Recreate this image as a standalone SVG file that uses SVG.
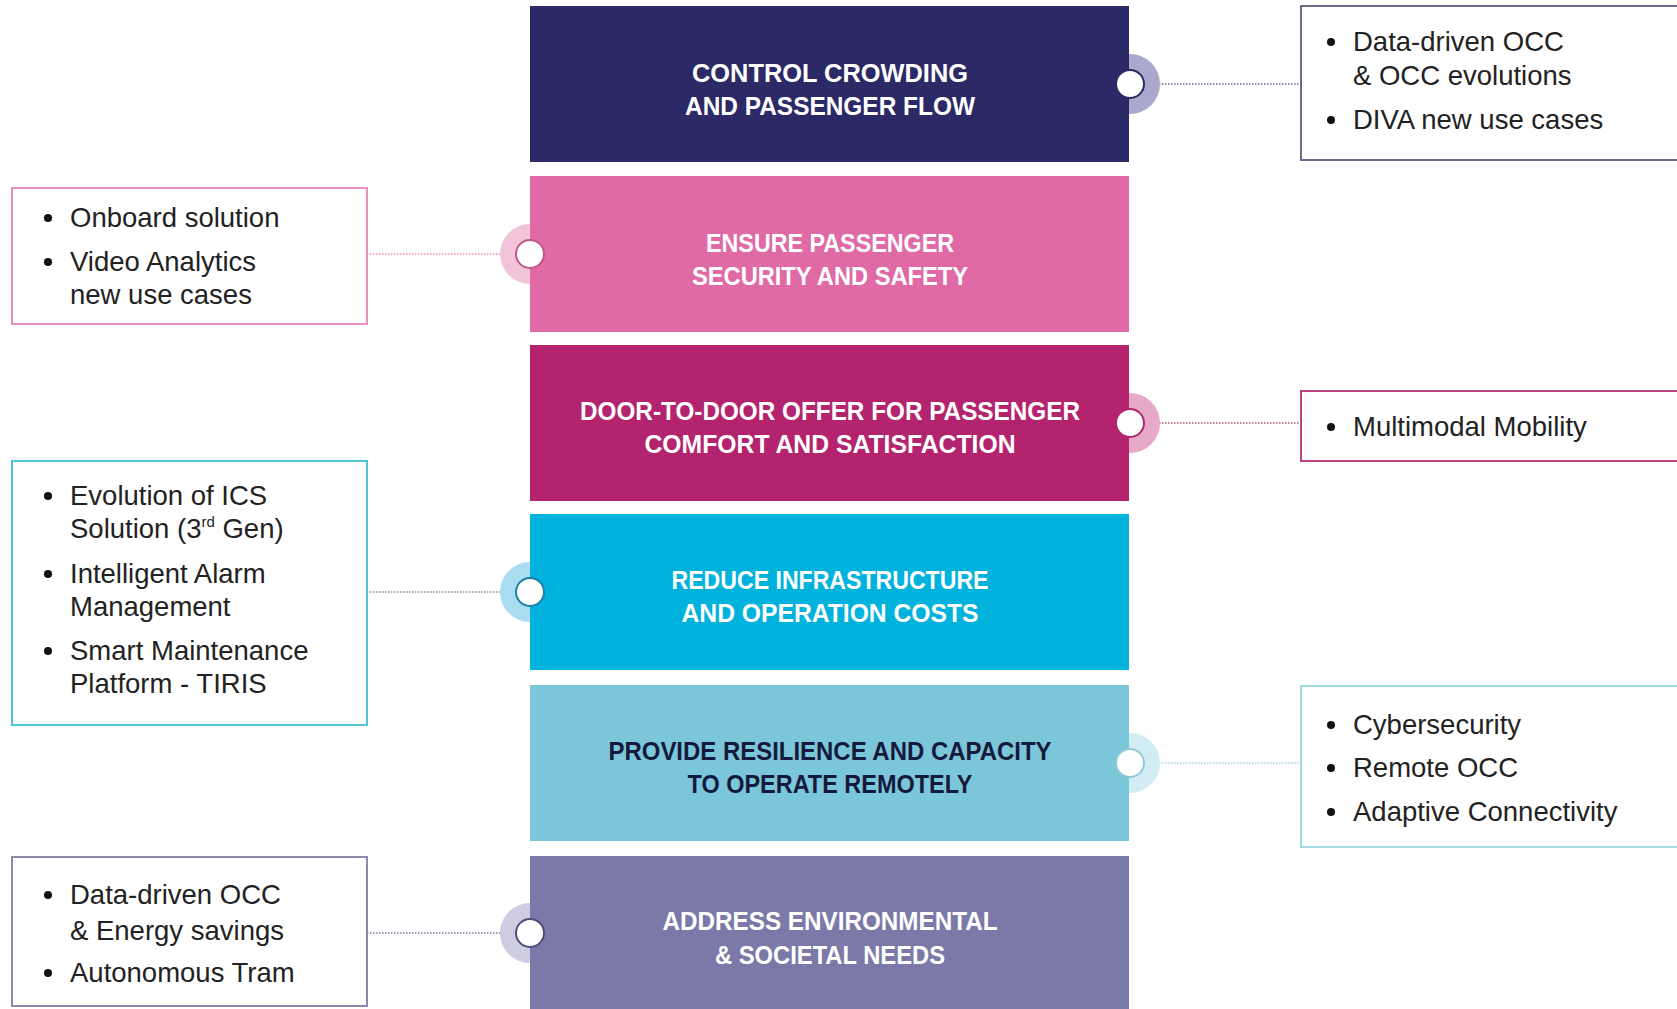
<svg xmlns="http://www.w3.org/2000/svg" width="1677" height="1009" viewBox="0 0 1677 1009">
<style>
.ct{font-family:"Liberation Sans",Arial,sans-serif;font-weight:bold;font-size:26px;fill:#ffffff;text-anchor:middle}
.st{font-family:"Liberation Sans",Arial,sans-serif;font-size:27.5px;fill:#222222}
.bul{fill:#111111}
.side{fill:#ffffff;stroke-width:2}
.dot{stroke-width:1.6;stroke-dasharray:1.5 1.5;fill:none}
.pin{fill:#ffffff;stroke-width:2}
</style>
<rect width="1677" height="1009" fill="#ffffff"/>

<g id="connectors">
<line class="dot" x1="1144" y1="84" x2="1300" y2="84" stroke="#6e6c8a"/>
<line class="dot" x1="367" y1="254" x2="516" y2="254" stroke="#e68cb8"/>
<line class="dot" x1="1144" y1="423" x2="1300" y2="423" stroke="#b8527f"/>
<line class="dot" x1="367" y1="592" x2="516" y2="592" stroke="#7f8a96"/>
<line class="dot" x1="1144" y1="763" x2="1300" y2="763" stroke="#9fd3df"/>
<line class="dot" x1="367" y1="933" x2="516" y2="933" stroke="#7a7896"/>
</g>

<g id="node-control">
<circle cx="1130" cy="84" r="30" fill="#aaa8cc"/>
<rect x="530" y="6" width="599" height="156" fill="#2b2966"/>
<circle class="pin" cx="1130" cy="84" r="14" stroke="#2b2966"/>
<text class="ct" x="830" y="82" textLength="276" lengthAdjust="spacingAndGlyphs">CONTROL CROWDING</text>
<text class="ct" x="830" y="115" textLength="290" lengthAdjust="spacingAndGlyphs">AND PASSENGER FLOW</text>
</g>

<g id="node-security">
<circle cx="530" cy="254" r="30" fill="#f2c4da"/>
<rect x="530" y="176" width="599" height="156" fill="#e06aa6"/>
<circle class="pin" cx="530" cy="254" r="14" stroke="#c0588a"/>
<text class="ct" x="830" y="252" textLength="248" lengthAdjust="spacingAndGlyphs">ENSURE PASSENGER</text>
<text class="ct" x="830" y="285" textLength="276" lengthAdjust="spacingAndGlyphs">SECURITY AND SAFETY</text>
</g>

<g id="node-door">
<circle cx="1130" cy="423" r="30" fill="#e6a9c8"/>
<rect x="530" y="345" width="599" height="156" fill="#b3236e"/>
<circle class="pin" cx="1130" cy="423" r="14" stroke="#b3236e"/>
<text class="ct" x="830" y="420" textLength="500" lengthAdjust="spacingAndGlyphs">DOOR-TO-DOOR OFFER FOR PASSENGER</text>
<text class="ct" x="830" y="453" textLength="371" lengthAdjust="spacingAndGlyphs">COMFORT AND SATISFACTION</text>
</g>

<g id="node-costs">
<circle cx="530" cy="592" r="30" fill="#a9def0"/>
<rect x="530" y="514" width="599" height="156" fill="#00b2dc"/>
<circle class="pin" cx="530" cy="592" r="14" stroke="#1a7fa0"/>
<text class="ct" x="830" y="589" textLength="317" lengthAdjust="spacingAndGlyphs">REDUCE INFRASTRUCTURE</text>
<text class="ct" x="830" y="622" textLength="297" lengthAdjust="spacingAndGlyphs">AND OPERATION COSTS</text>
</g>

<g id="node-resilience">
<circle cx="1130" cy="763" r="30" fill="#d2ecf3"/>
<rect x="530" y="685" width="599" height="156" fill="#7cc6da"/>
<circle class="pin" cx="1130" cy="763" r="14" stroke="#8fc9d8"/>
<text class="ct" x="830" y="760" textLength="443" lengthAdjust="spacingAndGlyphs" style="fill:#141a3c">PROVIDE RESILIENCE AND CAPACITY</text>
<text class="ct" x="830" y="793" textLength="285" lengthAdjust="spacingAndGlyphs" style="fill:#141a3c">TO OPERATE REMOTELY</text>
</g>

<g id="node-environment">
<circle cx="530" cy="933" r="30" fill="#cdcce0"/>
<rect x="530" y="856" width="599" height="160" fill="#7b79a8"/>
<circle class="pin" cx="530" cy="933" r="14" stroke="#4e4c78"/>
<text class="ct" x="830" y="930" textLength="335" lengthAdjust="spacingAndGlyphs">ADDRESS ENVIRONMENTAL</text>
<text class="ct" x="830" y="964" textLength="230" lengthAdjust="spacingAndGlyphs">&amp; SOCIETAL NEEDS</text>
</g>

<g id="box-occ">
<rect class="side" x="1301" y="6" width="390" height="154" stroke="#6e6a8e"/>
<circle class="bul" cx="1331" cy="42" r="4"/>
<text class="st" x="1353" y="51">Data-driven OCC</text>
<text class="st" x="1353" y="85">&amp; OCC evolutions</text>
<circle class="bul" cx="1331" cy="120" r="4"/>
<text class="st" x="1353" y="129">DIVA new use cases</text>
</g>

<g id="box-onboard">
<rect class="side" x="12" y="188" width="355" height="136" stroke="#e890bb"/>
<circle class="bul" cx="48" cy="218" r="4"/>
<text class="st" x="70" y="227">Onboard solution</text>
<circle class="bul" cx="48" cy="262" r="4"/>
<text class="st" x="70" y="271">Video Analytics</text>
<text class="st" x="70" y="304">new use cases</text>
</g>

<g id="box-multimodal">
<rect class="side" x="1301" y="391" width="390" height="70" stroke="#b8437f"/>
<circle class="bul" cx="1331" cy="427" r="4"/>
<text class="st" x="1353" y="436">Multimodal Mobility</text>
</g>

<g id="box-ics">
<rect class="side" x="12" y="461" width="355" height="264" stroke="#4ec3dc"/>
<circle class="bul" cx="48" cy="496" r="4"/>
<text class="st" x="70" y="505">Evolution of ICS</text>
<text class="st" x="70" y="538">Solution (3<tspan font-size="15" dy="-11">rd</tspan><tspan dy="11"> Gen)</tspan></text>
<circle class="bul" cx="48" cy="574" r="4"/>
<text class="st" x="70" y="583">Intelligent Alarm</text>
<text class="st" x="70" y="616">Management</text>
<circle class="bul" cx="48" cy="651" r="4"/>
<text class="st" x="70" y="660">Smart Maintenance</text>
<text class="st" x="70" y="693">Platform - TIRIS</text>
</g>

<g id="box-cyber">
<rect class="side" x="1301" y="686" width="390" height="161" stroke="#a2d9e5"/>
<circle class="bul" cx="1331" cy="725" r="4"/>
<text class="st" x="1353" y="734">Cybersecurity</text>
<circle class="bul" cx="1331" cy="768" r="4"/>
<text class="st" x="1353" y="777">Remote OCC</text>
<circle class="bul" cx="1331" cy="812" r="4"/>
<text class="st" x="1353" y="821">Adaptive Connectivity</text>
</g>

<g id="box-energy">
<rect class="side" x="12" y="857" width="355" height="149" stroke="#8b89ad"/>
<circle class="bul" cx="48" cy="895" r="4"/>
<text class="st" x="70" y="904">Data-driven OCC</text>
<text class="st" x="70" y="940">&amp; Energy savings</text>
<circle class="bul" cx="48" cy="973" r="4"/>
<text class="st" x="70" y="982">Autonomous Tram</text>
</g>
</svg>
